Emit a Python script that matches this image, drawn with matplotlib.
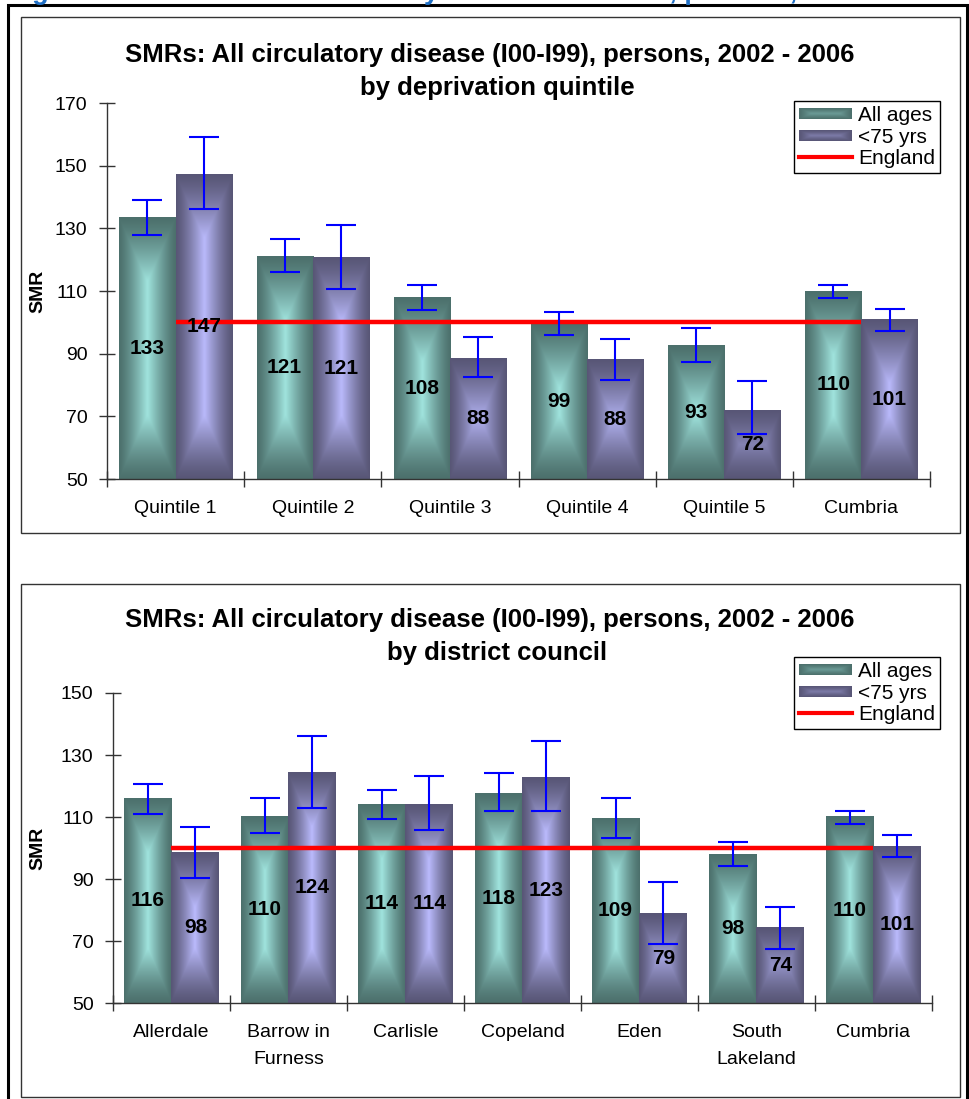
import matplotlib.pyplot as plt
import numpy as np
from matplotlib.patches import Rectangle
from matplotlib.legend_handler import HandlerBase
from matplotlib.image import BboxImage
from matplotlib.transforms import Bbox, TransformedBbox
from matplotlib.lines import Line2D

plt.rcParams['font.family'] = ['Liberation Sans', 'DejaVu Sans']

# top chart: deprivation quintiles
quint_names = ['Quintile 1', 'Quintile 2', 'Quintile 3', 'Quintile 4', 'Quintile 5', 'Cumbria']
quint_all = [133.3, 121.0, 107.8, 99.4, 92.6, 110.0]
quint_all_lo = [127.9, 116.1, 104.0, 95.8, 87.5, 107.7]
quint_all_hi = [139.0, 126.6, 112.0, 103.3, 98.2, 111.9]
quint_u75 = [147.2, 120.6, 88.4, 88.2, 72.0, 100.8]
quint_u75_lo = [136.2, 110.5, 82.5, 81.5, 64.5, 97.1]
quint_u75_hi = [159.2, 131.0, 95.3, 94.8, 81.4, 104.2]

# bottom chart: district councils
dist_names = ['Allerdale', 'Barrow in\nFurness', 'Carlisle', 'Copeland', 'Eden', 'South\nLakeland', 'Cumbria']
dist_all = [116.1, 110.3, 113.9, 117.7, 109.4, 98.0, 110.0]
dist_all_lo = [111.0, 104.8, 109.4, 111.9, 103.2, 94.2, 107.7]
dist_all_hi = [120.6, 116.1, 118.7, 124.2, 116.1, 101.9, 111.9]
dist_u75 = [98.4, 124.5, 114.0, 122.9, 79.0, 74.2, 100.6]
dist_u75_lo = [90.3, 112.9, 105.8, 111.9, 69.0, 67.4, 97.1]
dist_u75_hi = [106.8, 136.1, 123.2, 134.5, 89.0, 81.0, 104.2]

england = 100

teal_dark, teal_light = np.array([76, 112, 108]) / 255, np.array([160, 228, 222]) / 255
lilac_dark, lilac_light = np.array([88, 86, 118]) / 255, np.array([186, 186, 252]) / 255


def grad(dark, light, wpx, hpx, vscale=2.3):
    wpx = max(int(round(wpx)), 2)
    hpx = max(int(round(hpx)), 2)
    xs = np.arange(wpx) + 0.5
    ys = np.arange(hpx) + 0.5
    hw = wpx / 2
    dx = np.minimum(xs, wpx - xs) / hw
    dy = np.minimum(ys, hpx - ys) / (hw * vscale)
    d = np.clip(np.minimum(dx[None, :], dy[:, None]), 0, 1)
    t = d ** 1.3
    return dark + (light - dark) * t[..., None]


class GradHandler(HandlerBase):
    def __init__(self, dark, light):
        super().__init__()
        self.dark = dark
        self.light = light

    def create_artists(self, legend, orig_handle, xdescent, ydescent,
                       width, height, fontsize, trans):
        bb = Bbox.from_bounds(-xdescent, -ydescent + height * 0.12, width, height * 0.72)
        img = BboxImage(TransformedBbox(bb, trans), interpolation='bilinear')
        img.set_data(grad(self.dark, self.light, 50, 12, vscale=0.5))
        return [img]


W, H = 970, 1099
fig = plt.figure(figsize=(W / 100, H / 100), dpi=100)


def fx(px):
    return px / W


def fy(py):
    return 1 - py / H


# frames
fig.patches.append(Rectangle((fx(8), fy(1110)), fx(967) - fx(8), fy(5) - fy(1110),
                             transform=fig.transFigure, fill=False, ec='black', lw=2.2))
fig.patches.append(Rectangle((fx(21), fy(533)), fx(960) - fx(21), fy(17) - fy(533),
                             transform=fig.transFigure, fill=False, ec='#333333', lw=1))
fig.patches.append(Rectangle((fx(21), fy(1097)), fx(960) - fx(21), fy(584) - fy(1097),
                             transform=fig.transFigure, fill=False, ec='#333333', lw=1))

fig.text(fx(8), fy(-1), 'Figure 26: Standardised mortality ratios in Cumbria, persons, 2002 - 2006',
         color='#1f6fc5', fontsize=19.5, fontweight='bold', ha='left', va='baseline')


def draw_chart(ax, names, v_all, lo_all, hi_all, v_u75, lo_u75, hi_u75, ylim, yticks):
    n = len(names)
    x = np.arange(n)
    bw = 0.41
    ax.set_xlim(-0.5, n - 0.5)
    ax.set_ylim(*ylim)
    b1 = ax.bar(x - bw / 2, np.array(v_all) - ylim[0], bw, bottom=ylim[0], color='none', zorder=1)
    b2 = ax.bar(x + bw / 2, np.array(v_u75) - ylim[0], bw, bottom=ylim[0], color='none', zorder=1)
    for bars, dark, light in [(b1, teal_dark, teal_light), (b2, lilac_dark, lilac_light)]:
        for p in bars:
            x0, y0 = p.get_x(), p.get_y()
            x1, y1 = x0 + p.get_width(), y0 + p.get_height()
            (px0, py0), (px1, py1) = ax.transData.transform([(x0, y0), (x1, y1)])
            img = grad(dark, light, px1 - px0, py1 - py0)
            ax.imshow(img, extent=(x0, x1, y0, y1), aspect='auto', zorder=2,
                      interpolation='bilinear')
    ax.plot([0, n - 1], [england, england], color='#ff0000', lw=3.2, zorder=3,
            solid_capstyle='butt')
    for xs, v, lo, hi in [(x - bw / 2, v_all, lo_all, hi_all), (x + bw / 2, v_u75, lo_u75, hi_u75)]:
        v = np.array(v)
        ax.errorbar(xs, v, yerr=[v - np.array(lo), np.array(hi) - v], fmt='none',
                    ecolor='#0000ff', elinewidth=1.5, capsize=11, capthick=1.5, zorder=4)
        for xi, vi in zip(xs, v):
            ax.text(xi, (ylim[0] + vi) / 2, f'{vi:.0f}', ha='center', va='center',
                    fontsize=15, fontweight='bold', zorder=5)
    ax.set_xlim(-0.5, n - 0.5)
    ax.set_ylim(*ylim)
    ax.set_yticks(yticks)
    ax.set_xticks(np.arange(n + 1) - 0.5)
    ax.set_xticklabels([])
    ax.set_xticks(x, minor=True)
    ax.set_xticklabels(names, minor=True, fontsize=14, linespacing=1.8)
    ax.tick_params(axis='x', which='minor', length=0, pad=15)
    ax.tick_params(axis='x', which='major', direction='inout', length=12, width=1, color='#333333')
    ax.tick_params(axis='y', direction='inout', length=12, width=1, color='#333333',
                   labelsize=14, pad=8)
    for s in ['top', 'right']:
        ax.spines[s].set_visible(False)
    for s in ['left', 'bottom']:
        ax.spines[s].set_color('#333333')
        ax.spines[s].set_linewidth(1)
    ax.patch.set_alpha(0)
    h1 = Rectangle((0, 0), 1, 1)
    h2 = Rectangle((0, 0), 1, 1)
    h3 = Line2D([], [], color='#ff0000', lw=3)
    return h1, h2, h3


def add_legend(hs, top_px):
    fig.legend(hs, ['All ages', '<75 yrs', 'England'], loc='upper right',
               bbox_to_anchor=(fx(940), fy(top_px)), bbox_transform=fig.transFigure,
               handler_map={hs[0]: GradHandler(teal_dark, teal_light),
                            hs[1]: GradHandler(lilac_dark, lilac_light)},
               fontsize=15, frameon=True, fancybox=False, edgecolor='black', framealpha=1,
               borderpad=0.25, labelspacing=0.12, handlelength=2.5, handletextpad=0.3,
               borderaxespad=0)


ax1 = fig.add_axes([fx(107), fy(479), fx(930) - fx(107), fy(103) - fy(479)])
hs = draw_chart(ax1, quint_names, quint_all, quint_all_lo, quint_all_hi,
                quint_u75, quint_u75_lo, quint_u75_hi, (50, 170), np.arange(50, 171, 20))
add_legend(hs, 101)

ax2 = fig.add_axes([fx(113), fy(1003), fx(932) - fx(113), fy(693) - fy(1003)])
hs2 = draw_chart(ax2, dist_names, dist_all, dist_all_lo, dist_all_hi,
                 dist_u75, dist_u75_lo, dist_u75_hi, (50, 150), np.arange(50, 151, 20))
add_legend(hs2, 657)

# titles
fig.text(fx(490), fy(55), 'SMRs: All circulatory disease (I00-I99), persons, 2002 - 2006',
         ha='center', va='center', fontsize=18.5, fontweight='bold')
fig.text(fx(497), fy(88), 'by deprivation quintile', ha='center', va='center',
         fontsize=18.5, fontweight='bold')
fig.text(fx(490), fy(620), 'SMRs: All circulatory disease (I00-I99), persons, 2002 - 2006',
         ha='center', va='center', fontsize=18.5, fontweight='bold')
fig.text(fx(497), fy(653), 'by district council', ha='center', va='center',
         fontsize=18.5, fontweight='bold')

fig.text(fx(38), fy(291), 'SMR', rotation=90, ha='center', va='center', fontsize=14, fontweight='bold')
fig.text(fx(38), fy(848), 'SMR', rotation=90, ha='center', va='center', fontsize=14, fontweight='bold')

fig.savefig('out.png', dpi=100)
